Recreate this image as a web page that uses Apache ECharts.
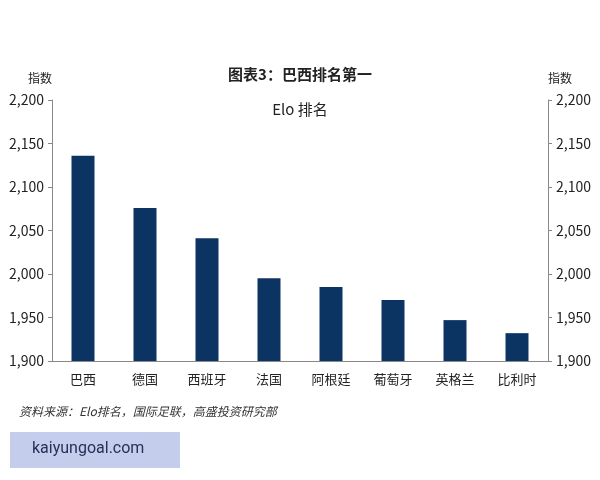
<!DOCTYPE html>
<html lang="zh">
<head>
    <meta charset="UTF-8">
    <title>图表3</title>
</head>
<script src="https://cdn.jsdelivr.net/npm/echarts@6/dist/echarts.min.js"></script>
<body style="margin:0;background:#fff;">
<div id="main" style="width:600px;height:480px;"></div>
<script type="text/javascript">
    var countries = ['巴西', '德国', '西班牙', '法国', '阿根廷', '葡萄牙', '英格兰', '比利时'];
    var eloValues = [2136, 2076, 2041, 1995, 1985, 1970, 1947, 1932];
    var font = '"Noto Sans CJK SC", sans-serif';

    var chart = echarts.init(document.getElementById('main'));
    var yAxisBase = {
        type: 'value', min: 1900, max: 2200, interval: 50,
        name: '指数', nameLocation: 'end', nameGap: 16,
        nameTextStyle: { color: '#222', fontSize: 12, fontFamily: font },
        axisLine: { show: true, lineStyle: { color: '#888' } },
        axisTick: { show: true, length: 4, lineStyle: { color: '#888' } },
        splitLine: { show: false },
        axisLabel: { color: '#222', fontSize: 14, fontFamily: font }
    };
    chart.setOption({
        title: [
            { text: '图表3：巴西排名第一', left: 'center', top: 62,
              textStyle: { fontSize: 15, fontWeight: 'bold', color: '#222', fontFamily: font } },
            { text: 'Elo 排名', left: 'center', top: 97,
              textStyle: { fontSize: 15, fontWeight: 'normal', color: '#222', fontFamily: font } },
            { text: '资料来源：Elo排名，国际足联，高盛投资研究部', left: 14, top: 400,
              textStyle: { fontSize: 12, fontStyle: 'italic', fontWeight: 'normal', color: '#333', fontFamily: font } }
        ],
        grid: { left: 52, right: 52, top: 100, bottom: 119 },
        xAxis: {
            type: 'category', data: countries,
            axisLine: { lineStyle: { color: '#888' } },
            axisTick: { show: false },
            axisLabel: { color: '#222', fontSize: 13, fontFamily: font, margin: 12 }
        },
        yAxis: [
            Object.assign({}, yAxisBase, { position: 'left', nameTextStyle: Object.assign({}, yAxisBase.nameTextStyle, { align: 'right', padding: [0, 0, 0, 0] }) }),
            Object.assign({}, yAxisBase, { position: 'right', nameTextStyle: Object.assign({}, yAxisBase.nameTextStyle, { align: 'left' }) })
        ],
        series: [{
            type: 'bar', data: eloValues, barWidth: 23,
            itemStyle: { color: '#0c3462' }
        }],
        graphic: [
            { type: 'rect', shape: { x: 10, y: 432, width: 170, height: 36 }, style: { fill: '#c5cdec' } },
            { type: 'text', x: 32, y: 441, style: { text: 'kaiyungoal.com', fontSize: 16, fill: '#2a2f55', fontFamily: 'Roboto' } }
        ]
    });
</script>
</body>
</html>
